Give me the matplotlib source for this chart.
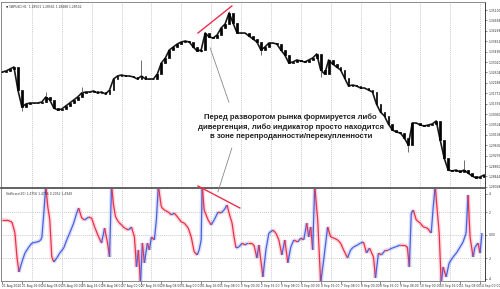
import matplotlib.pyplot as plt
import numpy as np
from matplotlib.collections import LineCollection
from matplotlib.patches import ConnectionPatch

# GBPUSD closes, one value per candle
closes = [1.3262, 1.3266, 1.3274, 1.3282, 1.3190, 1.3122, 1.3134, 1.3138, 1.3138, 1.3138,
          1.3142, 1.3162, 1.3150, 1.3118, 1.3110, 1.3114, 1.3126, 1.3138, 1.3150, 1.3162,
          1.3178, 1.3182, 1.3182, 1.3186, 1.3178, 1.3182, 1.3174, 1.3190, 1.3234, 1.3246,
          1.3250, 1.3246, 1.3246, 1.3242, 1.3234, 1.3246, 1.3234, 1.3234, 1.3234, 1.3254,
          1.3298, 1.3318, 1.3350, 1.3362, 1.3374, 1.3382, 1.3386, 1.3382, 1.3362, 1.3346,
          1.3350, 1.3418, 1.3402, 1.3398, 1.3410, 1.3438, 1.3454, 1.3498, 1.3458, 1.3418,
          1.3418, 1.3418, 1.3406, 1.3394, 1.3382, 1.3350, 1.3362, 1.3378, 1.3378, 1.3374,
          1.3350, 1.3330, 1.3298, 1.3302, 1.3310, 1.3306, 1.3302, 1.3310, 1.3318, 1.3334,
          1.3270, 1.3254, 1.3310, 1.3294, 1.3282, 1.3270, 1.3238, 1.3206, 1.3210, 1.3206,
          1.3198, 1.3198, 1.3190, 1.3182, 1.3134, 1.3102, 1.3086, 1.3054, 1.3030, 1.3022,
          1.3018, 1.2998, 1.2970, 1.3058, 1.3058, 1.3050, 1.3046, 1.3050, 1.3054, 1.3066,
          1.2990, 1.2918, 1.2870, 1.2866, 1.2870, 1.2862, 1.2870, 1.2858, 1.2846, 1.2838,
          1.2842, 1.2850]

# long wicks that stick out of the candle line
spike_bars = [5, 11, 20, 35, 50, 57, 65, 80, 102, 116]
spike_prices = [1.3106, 1.3182, 1.3202, 1.3310, 1.3342, 1.3506, 1.3330, 1.3242, 1.2942, 1.2910]

price_ticks = [1.35100, 1.34684, 1.34268, 1.33852, 1.33436, 1.33020, 1.32604, 1.32188, 1.31772,
               1.31356, 1.30940, 1.30524, 1.30108, 1.29692, 1.29276, 1.28860, 1.28444, 1.28028]

# oscillator line
osc_bars = [0, 1.25, 2.5, 3.25, 3.75, 4.25, 5, 5.75, 6.75, 7.5, 8.75, 9.5, 10, 10.5, 11, 11.5,
            12, 12.5, 13, 13.75, 14.5, 15.5, 16.25, 17, 18, 18.75, 19.25, 20, 20.75, 21.75, 22.5,
            23.25, 24.25, 25, 25.75, 26.5, 27, 27.5, 28, 28.5, 29.25, 30, 30.75, 31.75, 32.5,
            33.25, 33.75, 34.25, 34.75, 35.25, 35.75, 36.5, 37, 37.5, 38.25, 38.75, 39.25, 40,
            40.75, 41.75, 42.5, 43.25, 44.25, 45, 45.75, 46.75, 47.5, 48.25, 49, 49.5, 50, 50.25,
            50.75, 51.75, 52.5, 53.25, 54.25, 55, 55.75, 56.5, 57, 57.75, 58.25, 58.75, 59.5,
            60.25, 61, 61.75, 62.5, 63.25, 64, 64.5, 65.5, 66.25, 67, 68, 68.75, 69.5, 70.25, 71,
            71.75, 72.5, 73.25, 74.25, 75, 75.75, 76.5, 77, 77.5, 78, 78.5, 79.25, 80, 80.75,
            81.75, 82.5, 83.25, 84.25, 85, 85.75, 86.75, 87.5, 88.25, 89.25, 90, 90.75, 91.5,
            92.25, 93.25, 93.75, 94.5, 95.25, 96.25, 97, 98, 98.75, 100, 101, 101.75, 102.25,
            102.75, 103.25, 104, 105, 105.75, 106.75, 107.75, 108.25, 108.75, 109.25, 109.75,
            110.25, 110.75, 111.5, 112.25, 113.25, 114.25, 115, 115.75, 116.5, 117, 117.5,
            118.25, 118.75, 119.5, 120, 120.5]
osc_vals = [1.30, 1.30, 1.13, 0.17, -1.91, -3.22, -2.35, -1.57, -1.04, -0.70, -0.61, -0.52,
            -0.26, 1.91, 4.30, 2.43, 1.30, -1.91, -2.35, -2.00, -1.57, -1.13, -0.43, 0.17, 1.04,
            1.91, 2.35, 1.48, 1.30, 1.57, 1.48, 0.70, -0.17, -0.70, 0.61, -0.70, -1.91, 4.30,
            2.61, 1.57, 1.13, 0.87, 0.61, 0.43, 0.70, -0.17, -2.78, -1.30, -4.20, -0.70, -2.43,
            -0.70, -1.30, -0.17, -0.43, 1.30, 4.30, 2.43, 2.17, 2.00, 1.74, 1.91, 1.48, 1.13,
            1.04, 0.61, -0.17, -1.48, -1.74, -1.30, -0.43, 4.30, 2.17, 1.30, 0.87, 1.30, 2.00,
            1.91, 2.17, 2.61, 1.91, 1.04, -0.17, -1.13, -1.04, -0.70, -0.87, -0.70, -0.70, -0.87,
            -2.00, -0.87, -3.65, -1.30, 0.17, 0.43, 0.17, -0.43, -1.74, -0.43, -2.43, -1.04,
            -0.43, -0.61, -0.26, -0.43, 1.04, -0.17, 0.70, -1.30, 4.30, 1.30, -4.20, -2.17,
            0.70, -0.17, -0.26, -0.43, -0.70, -1.30, -2.00, -1.30, -1.04, -0.87, -0.70, -0.61,
            -1.57, -1.13, -1.91, -3.74, -1.57, -1.74, -1.30, -1.30, -1.13, -1.04, -0.87, -0.87,
            -1.04, -2.78, 1.91, 2.17, 1.30, 1.04, 0.70, 0.61, 0.17, 2.43, 4.30, 2.17, 0.17,
            -4.20, -2.78, -3.65, -2.43, -1.91, -1.48, -1.04, -0.61, 0.17, 3.48, -0.17, -1.91,
            -1.04, -0.70, -1.57, 0.17]

# divergence lines (drawn by the author)
div_bars_price = [49.2, 57.7]
div_prices = [1.3418, 1.3526]
div_bars_osc = [49.2, 59.7]
div_osc = [4.26, 2.35]

time_labels = ['21 Aug 2020', '21 Aug 16:00', '24 Aug 08:00', '25 Aug 00:00', '25 Aug 16:00',
               '26 Aug 08:00', '27 Aug 00:00', '27 Aug 16:00', '28 Aug 08:00', '31 Aug 00:00',
               '31 Aug 16:00', '1 Sep 08:00', '2 Sep 00:00', '2 Sep 16:00', '3 Sep 08:00',
               '4 Sep 00:00', '4 Sep 16:00', '7 Sep 08:00', '8 Sep 00:00', '8 Sep 16:00',
               '9 Sep 08:00', '10 Sep 00:00', '10 Sep 16:00', '11 Sep 08:00', '14 Sep 00:00']

osc_ticks = [3.6, 2, 0, -2, -3.8]
osc_tick_labels = ['4', '2', '0.00', '-2', '-4']

note = ('Перед разворотом рынка формируется либо\n'
        'дивергенция, либо индикатор просто находится\n'
        'в зоне перепроданности/перекупленности')

red = '#ec2f4b'
blue = '#4a5fe0'
grid_col = '#b8b8b8'
small = 2.2

fig = plt.figure(figsize=(5, 2.89), dpi=100)
ax1 = fig.add_axes([0.002, 1 - 188 / 289, 0.968, 186 / 289])
ax2 = fig.add_axes([0.002, 1 - 281 / 289, 0.968, 92 / 289], sharex=ax1)

# --- price panel
c = np.array(closes)
o = np.concatenate([[c[0]], c[:-1]])
x = np.arange(len(c))
ax1.plot(x, c, color='#1a1a1a', linewidth=1.2, zorder=2)
ax1.bar(x, c - o, bottom=o, width=0.45, color='black', edgecolor='black', linewidth=0.5,
        zorder=3)
ax1.vlines(spike_bars, c[spike_bars], spike_prices, color='#555555', linewidth=0.6, zorder=2)
ax1.plot(div_bars_price, div_prices, color=red, linewidth=1.0, zorder=4)

ax1.set_xlim(-0.25, 121.25)
ax1.set_ylim(1.2798, 1.3542)
ax1.yaxis.tick_right()
ax1.set_yticks(price_ticks)
ax1.set_yticklabels(['%.5f' % p for p in price_ticks])
ax1.tick_params(axis='y', labelsize=small, length=1.5, width=0.4, pad=1, colors='#333333')
ax1.tick_params(axis='x', bottom=False, labelbottom=False)

ax1.text(0.01, 0.985, '\u25bc GBPUSD,H1  1.28501 1.28561 1.28488 1.28502',
         transform=ax1.transAxes, fontsize=small, color='#333333', va='top')

ax1.text(72.5, 1.3042, note, ha='center', va='center', fontsize=5.6,
         family='Liberation Sans', fontweight='bold', color='#222222', linespacing=1.45,
         zorder=5)
ax1.annotate('', xy=(52.0, 1.3370), xytext=(57.2, 1.3130),
             arrowprops=dict(arrowstyle='-', color='#888888', linewidth=0.6))

# --- oscillator panel
pts = np.column_stack([osc_bars, osc_vals])
segs = np.stack([pts[:-1], pts[1:]], axis=1)
rising = np.diff(osc_vals) > 0
cols = np.where(rising, blue, red)
ax2.add_collection(LineCollection(segs, colors=cols, linewidths=3.0, alpha=0.18))
ax2.add_collection(LineCollection(segs, colors=cols, linewidths=0.9))
ax2.plot(div_bars_osc, div_osc, color=red, linewidth=1.0, clip_on=False, zorder=4)

ax2.set_ylim(-4.0, 4.0)
for lev in [2, 0, -2]:
    ax2.axhline(lev, color=grid_col, linewidth=0.5, linestyle=(0, (1.5, 1.5)), zorder=0)
ax2.yaxis.tick_right()
ax2.set_yticks(osc_ticks)
ax2.set_yticklabels(osc_tick_labels)
ax2.tick_params(axis='y', labelsize=small, length=1.5, width=0.4, pad=1, colors='#333333')

ax2.set_xticks(np.arange(len(time_labels)) * 5)
ax2.set_xticklabels(time_labels)
ax2.tick_params(axis='x', labelsize=small, length=2, width=0.4, pad=0.5, colors='#333333')
for lab in ax2.get_xticklabels():
    lab.set_horizontalalignment('left')

ax2.text(0.01, 0.97, 'StdScore(20) 1.4756 1.4756 0.2052 1.4940', transform=ax2.transAxes,
         fontsize=small, color='#333333', va='top')

# vertical separators
for ax in (ax1, ax2):
    for gx in np.arange(7.5, 121, 7.5):
        ax.axvline(gx, color=grid_col, linewidth=0.5, linestyle=(0, (1.5, 1.5)), zorder=0)
    for sp in ax.spines.values():
        sp.set_color('#777777')
        sp.set_linewidth(0.6)
    ax.spines['right'].set_color('#222222')

ax1.spines['bottom'].set_color('#555555')
ax1.spines['bottom'].set_linewidth(1.3)
ax2.spines['top'].set_visible(False)

con = ConnectionPatch(xyA=(57.7, 1.2958), coordsA=ax1.transData,
                      xyB=(54.2, 3.74), coordsB=ax2.transData,
                      color='#888888', linewidth=0.6)
fig.add_artist(con)

fig.savefig('out.png', dpi=100)
